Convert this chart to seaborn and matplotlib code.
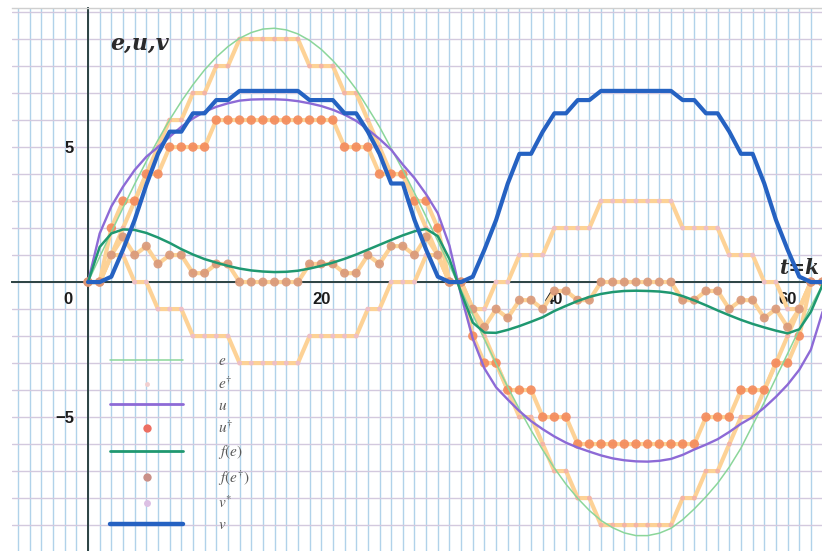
import matplotlib
matplotlib.use("Agg")
import matplotlib.pyplot as plt
import seaborn as sns
import pandas as pd
from matplotlib.lines import Line2D
from matplotlib.ticker import MultipleLocator, FixedLocator

# ---------------- data ----------------
t = list(range(64))

e = [0, 0.93, 1.85, 2.75, 3.63, 4.47, 5.26, 6.01, 6.69, 7.31,
     7.86, 8.33, 8.72, 9.03, 9.24, 9.37, 9.40, 9.34, 9.19, 8.95,
     8.62, 8.20, 7.71, 7.14, 6.45, 5.75, 4.95, 4.15, 3.30, 2.42,
     1.52, 0.62,
     -0.30, -1.21, -2.12, -3.02, -3.89, -4.71, -5.49, -6.22,
     -6.89, -7.49, -8.01, -8.46, -8.83, -9.10, -9.29, -9.39, -9.39, -9.30,
     -9.12, -8.80, -8.40, -7.95, -7.45, -6.85, -6.15, -5.30, -4.45, -3.55,
     -2.65, -1.75, -0.90, -0.10]

e_dag = [0, 0, 1, 2, 3, 4, 5, 6, 6, 7,
         7, 8, 8, 9, 9, 9, 9, 9, 9, 8,
         8, 8, 7, 7, 6, 5, 4, 4, 3, 2,
         1, 0,
         0, -1, -2, -3, -4, -5, -5, -6,
         -7, -7, -8, -8, -9, -9, -9, -9, -9, -9,
         -9, -8, -8, -7, -7, -6, -5, -5, -4, -3,
         -2, -1, 0, 0]

u = [0, 1.80, 2.80, 3.53, 4.15, 4.64, 5.00, 5.38, 5.75, 6.06,
     6.31, 6.49, 6.62, 6.72, 6.76, 6.77, 6.77, 6.75, 6.70, 6.62,
     6.52, 6.38, 6.20, 5.97, 5.65, 5.30, 4.90, 4.35, 3.85, 3.25,
     2.55, 1.35,
     -0.50, -2.10, -3.20, -3.90, -4.35, -4.78, -5.15, -5.45,
     -5.72, -5.95, -6.13, -6.28, -6.42, -6.53, -6.60, -6.64, -6.65, -6.62,
     -6.55, -6.40, -6.20, -6.02, -5.82, -5.55, -5.25, -5.00, -4.65, -4.25,
     -3.80, -3.25, -2.50, -1.10]

u_dag = [0, 0, 2, 3, 3, 4, 4, 5, 5, 5,
         5, 6, 6, 6, 6, 6, 6, 6, 6, 6,
         6, 6, 5, 5, 5, 4, 4, 4, 3, 3,
         2, 0,
         0, -2, -3, -3, -4, -4, -4, -5,
         -5, -5, -6, -6, -6, -6, -6, -6, -6, -6,
         -6, -6, -6, -5, -5, -5, -4, -4, -4, -3,
         -3, -2, 0, 0]

f_e = [0, 1.30, 1.80, 1.95, 1.93, 1.82, 1.65, 1.45, 1.22, 1.02,
       0.85, 0.72, 0.60, 0.50, 0.43, 0.39, 0.37, 0.38, 0.42, 0.50,
       0.60, 0.72, 0.86, 1.02, 1.20, 1.38, 1.56, 1.73, 1.88, 1.97,
       1.70, 0.85,
       -0.40, -1.50, -1.87, -1.88, -1.77, -1.63, -1.47, -1.30,
       -1.07, -0.88, -0.70, -0.55, -0.44, -0.37, -0.33, -0.32, -0.33, -0.35,
       -0.40, -0.52, -0.68, -0.86, -1.05, -1.23, -1.40, -1.55, -1.68, -1.80,
       -1.90, -1.75, -1.10, -0.10]

f_e_dag = [0, 0, 1.00, 1.67, 1.00, 1.33, 0.67, 1.00, 1.00, 0.33,
           0.33, 0.67, 0.67, 0, 0, 0, 0, 0, 0, 0.67,
           0.67, 0.67, 0.33, 0.33, 1.00, 0.67, 1.33, 1.33, 1.00, 1.67,
           1.00, 0,
           0, -1.00, -1.67, -1.00, -1.33, -0.67, -0.67, -1.00,
           -0.33, -0.33, -0.67, -0.67, 0, 0, 0, 0, 0, 0,
           0, -0.67, -0.67, -0.33, -0.33, -1.00, -0.67, -0.67, -1.33, -1.00,
           -1.67, -1.00, 0, 0]

v_star = [0, 0, 1, 1, 0, 0, -1, -1, -1, -2,
          -2, -2, -2, -3, -3, -3, -3, -3, -3, -2,
          -2, -2, -2, -2, -1, -1, 0, 0, 0, 1,
          1, 0,
          0, -1, -1, 0, 0, 1, 1, 1,
          2, 2, 2, 2, 3, 3, 3, 3, 3, 3,
          3, 2, 2, 2, 2, 1, 1, 1, 0, 0,
          -1, -1, 0, 0]

v = [0, 0, 0.2, 1.2, 2.3, 3.6, 4.75, 5.57, 5.57, 6.25,
     6.25, 6.74, 6.74, 7.08, 7.08, 7.08, 7.08, 7.08, 7.08, 6.74,
     6.74, 6.74, 6.25, 6.25, 5.57, 4.75, 3.65, 3.65, 2.3, 1.2,
     0.2, 0,
     0, 0.2, 1.2, 2.3, 3.65, 4.75, 4.75, 5.57,
     6.25, 6.25, 6.74, 6.74, 7.08, 7.08, 7.08, 7.08, 7.08, 7.08,
     7.08, 6.74, 6.74, 6.25, 6.25, 5.57, 4.75, 4.75, 3.65, 2.3,
     1.2, 0.2, 0, 0]

x_ticks = [10, 20, 30, 40, 50, 60]
x_tick_labels = ["", "20", "", "40", "", "60"]
y_ticks = [-5, 5, 10]
y_tick_labels = ["\u22125", "5", ""]
legend_labels = [r"$e$", r"$e^{\dagger}$", r"$u$", r"$u^{\dagger}$",
                 r"$f(e)$", r"$f(e^{\dagger})$", r"$v^{*}$", r"$v$"]

df = pd.DataFrame({"t": t, "e": e, "e_dag": e_dag, "u": u, "u_dag": u_dag,
                   "f_e": f_e, "f_e_dag": f_e_dag, "v_star": v_star, "v": v})

# ---------------- style ----------------
sns.set_theme(style="white")
plt.rcParams["font.family"] = ["Liberation Sans", "DejaVu Sans"]
plt.rcParams["mathtext.fontset"] = "stix"

C_E = "#8bd69a"
C_ORANGE = "#fdd296"
C_U = "#8d6ad6"
C_UDAG = "#f48a5a"
C_FE = "#1f9870"
C_FEDAG = "#d99878"
C_DAGDOT = "#f3b4a6"
C_VSTAR = "#eebfc6"
C_V = "#2562c2"
C_AXIS = "#2b4242"

fig = plt.figure(figsize=(8.22, 5.51), dpi=100)
ax = fig.add_axes([12 / 822, 0, 810 / 822, 543 / 551])
ax.set_xlim(-6.52, 62.95)
ax.set_ylim(-9.96, 10.15)

# grid
ax.xaxis.set_major_locator(FixedLocator(x_ticks))
ax.yaxis.set_major_locator(FixedLocator(y_ticks))
ax.xaxis.set_minor_locator(MultipleLocator(1))
ax.yaxis.set_minor_locator(MultipleLocator(1))
ax.grid(True, which="both", axis="x", color="#b0d2ea", lw=1.0)
ax.grid(True, which="both", axis="y", color="#d3c9de", lw=1.0)
ax.set_axisbelow(True)

# stepped / dotted series (light orange joined)
for col in ["v_star", "e_dag", "u_dag", "f_e_dag"]:
    sns.lineplot(data=df, x="t", y=col, ax=ax, color=C_ORANGE, lw=3.0,
                 estimator=None, zorder=2)

sns.scatterplot(data=df, x="t", y="e_dag", ax=ax, color=C_DAGDOT, s=12,
                edgecolor="none", zorder=3)
sns.scatterplot(data=df, x="t", y="v_star", ax=ax, color=C_VSTAR, s=12,
                edgecolor="none", zorder=3)
sns.scatterplot(data=df, x="t", y="u_dag", ax=ax, color=C_UDAG, s=46,
                edgecolor="none", zorder=3, alpha=0.9)
sns.scatterplot(data=df, x="t", y="f_e_dag", ax=ax, color=C_FEDAG, s=42,
                edgecolor="none", zorder=3, alpha=0.9)

# smooth curves
sns.lineplot(data=df, x="t", y="e", ax=ax, color=C_E, lw=1.1,
             estimator=None, zorder=4)
sns.lineplot(data=df, x="t", y="u", ax=ax, color=C_U, lw=1.7,
             estimator=None, zorder=4)
sns.lineplot(data=df, x="t", y="f_e", ax=ax, color=C_FE, lw=1.8,
             estimator=None, zorder=4)
sns.lineplot(data=df, x="t", y="v", ax=ax, color=C_V, lw=3.0,
             estimator=None, zorder=5)

# axes through the origin
ax.spines["right"].set_visible(False)
ax.spines["top"].set_color("#cfcfcf")
ax.spines["top"].set_linewidth(1.0)
ax.spines["left"].set_position(("data", 0))
ax.spines["bottom"].set_position(("data", 0))
for side in ["left", "bottom"]:
    ax.spines[side].set_color(C_AXIS)
    ax.spines[side].set_linewidth(1.4)
    ax.spines[side].set_zorder(1.5)

ax.set_xticklabels(x_tick_labels)
ax.set_yticklabels(y_tick_labels)
ax.tick_params(which="major", direction="inout", length=7, width=1.2,
               color=C_AXIS, labelsize=12, labelcolor="#1c1c1c")
ax.tick_params(axis="x", which="major", pad=4.0)
ax.tick_params(axis="y", which="major", pad=6.5)
ax.tick_params(which="minor", length=0)
for lab in ax.get_xticklabels() + ax.get_yticklabels():
    lab.set_fontweight("bold")
ax.set_xlabel("")
ax.set_ylabel("")

ax.text(-1.75, -0.37, "0", ha="center", va="top", fontsize=12,
        fontweight="bold", color="#1c1c1c")
ax.text(1.9, 8.6, "e,u,v", fontsize=16, fontweight="bold", fontstyle="italic",
        family="DejaVu Serif", color="#2a2a2a")
ax.text(59.3, 0.3, "t=k", fontsize=14.5, fontweight="bold", fontstyle="italic",
        family="DejaVu Serif", color="#2a2a2a")

# legend
handles = [
    Line2D([], [], color=C_E, lw=1.1),
    Line2D([], [], ls="none", marker="o", ms=3.5, color="#f2cfcf", mec="none"),
    Line2D([], [], color=C_U, lw=2.0),
    Line2D([], [], ls="none", marker="o", ms=6, color="#ec6f62", mec="none"),
    Line2D([], [], color=C_FE, lw=2.0),
    Line2D([], [], ls="none", marker="o", ms=6, color="#c99088", mec="none"),
    Line2D([], [], ls="none", marker="o", ms=5, color="#dcc0e4", mec="none"),
    Line2D([], [], color=C_V, lw=3.2),
]
ax.legend(handles, legend_labels, loc="upper left",
          bbox_to_anchor=(0.121, 0.362), frameon=False, handlelength=4.8,
          handletextpad=2.3, labelspacing=0.45, fontsize=11,
          labelcolor="#5a5a5a", borderpad=0, borderaxespad=0, numpoints=1)

fig.savefig("out.png", dpi=100)
